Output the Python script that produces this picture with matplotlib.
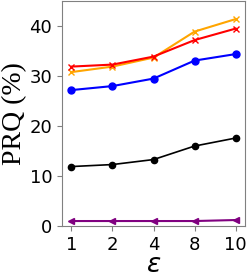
import matplotlib
matplotlib.use("Agg")
import matplotlib.pyplot as plt

eps_labels = ["1", "2", "4", "8", "10"]
orange_vals = [30.8, 31.9, 33.7, 38.9, 41.4]
red_vals = [31.9, 32.3, 33.9, 37.2, 39.5]
blue_vals = [27.2, 28.0, 29.5, 33.1, 34.4]
black_vals = [11.9, 12.3, 13.3, 16.0, 17.6]
purple_vals = [1.0, 1.0, 1.0, 1.0, 1.2]


def main():
    fig = plt.figure(figsize=(2.49, 2.77), dpi=100)
    ax = fig.add_axes([0.249, 0.184, 0.735, 0.812])
    x = range(len(eps_labels))

    ax.plot(x, orange_vals, color="orange", marker="x", markersize=5, lw=1.5)
    ax.plot(x, red_vals, color="red", marker="x", markersize=5, lw=1.5)
    ax.plot(x, blue_vals, color="blue", marker="o", markersize=5, lw=1.5)
    ax.plot(x, black_vals, color="black", marker="o", markersize=4.5, lw=1.2)
    ax.plot(x, purple_vals, color="purple", marker="<", markersize=5, lw=1.5)

    ax.set_xticks(list(x))
    ax.set_xticklabels(eps_labels)
    ax.set_xlim(-0.23, 4.23)
    ax.set_ylim(0, 45)
    ax.set_yticks([0, 10, 20, 30, 40])
    ax.tick_params(labelsize=13, color="gray")
    for s in ax.spines.values():
        s.set_color("gray")

    ax.set_ylabel("PRQ (%)", fontsize=20, family="Liberation Serif", labelpad=2)
    ax.set_xlabel(r"$\epsilon$", fontsize=19, labelpad=-1)

    fig.savefig("out.png", dpi=100)


if __name__ == "__main__":
    main()
